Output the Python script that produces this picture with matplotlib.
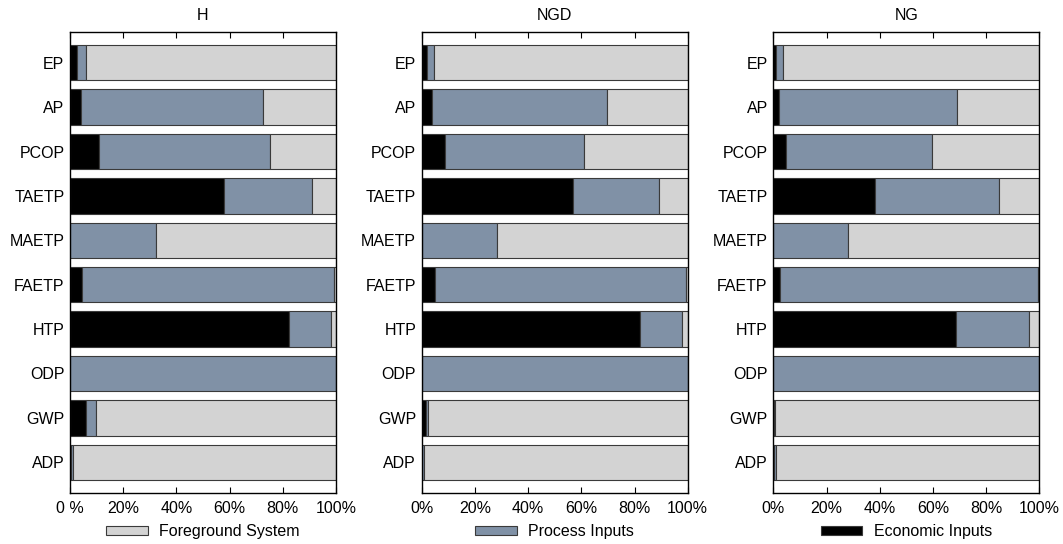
import matplotlib.pyplot as plt
from matplotlib.patches import Patch
import numpy as np

plt.rcParams['font.family'] = ['Liberation Sans', 'DejaVu Sans']

categories = ["EP", "AP", "PCOP", "TAETP", "MAETP", "FAETP", "HTP", "ODP", "GWP", "ADP"]
panels = ["H", "NGD", "NG"]

# shares in % per panel (economic, process); foreground is the rest
economic = {
    "H":   [2.7, 4.0, 10.8, 57.8, 0.0, 4.6, 82.2, 0.0, 5.9, 0.3],
    "NGD": [2.0, 4.0, 8.8, 56.8, 0.0, 5.0, 81.9, 0.0, 1.6, 0.1],
    "NG":  [0.9, 2.1, 4.9, 38.4, 0.0, 2.4, 68.6, 0.0, 0.2, 0.3],
}
process = {
    "H":   [3.4, 68.4, 64.4, 33.1, 32.3, 94.8, 15.9, 100.0, 3.8, 0.9],
    "NGD": [2.8, 65.5, 52.2, 32.5, 28.4, 94.4, 16.0, 100.0, 0.6, 0.9],
    "NG":  [2.6, 66.9, 54.6, 46.4, 28.2, 97.0, 27.7, 100.0, 0.3, 0.9],
}
zero_labels = {"H": "0 %", "NGD": "0%", "NG": "0%"}
legend_names = ["Foreground System", "Process Inputs", "Economic Inputs"]

c_fore = "#d3d3d3"
c_proc = "#8091a6"
c_econ = "#000000"
edge = "#3a3a3a"

fig = plt.figure(figsize=(10.63, 5.44), dpi=100)
lefts = [70, 421.7, 773.3]
width = 266
bottom = 1 - 492.7 / 544
height = (492.7 - 32.3) / 544

legend_colors = [c_fore, c_proc, c_econ]

for i, p in enumerate(panels):
    ax = fig.add_axes([lefts[i] / 1063, bottom, width / 1063, height])
    y = np.arange(len(categories))[::-1]
    e = np.array(economic[p])
    pr = np.array(process[p])
    fg = 100 - e - pr
    ax.barh(y, e, height=0.8, color=c_econ, edgecolor=edge, linewidth=0.8)
    ax.barh(y, pr, left=e, height=0.8, color=c_proc, edgecolor=edge, linewidth=0.8)
    ax.barh(y, fg, left=e + pr, height=0.8, color=c_fore, edgecolor=edge, linewidth=0.8)
    ax.set_xlim(0, 100)
    ax.set_ylim(-0.685, 9.685)
    ax.set_yticks(y)
    ax.set_yticklabels(categories, fontsize=11.5)
    ax.set_xticks([0, 20, 40, 60, 80, 100])
    ax.set_xticklabels([zero_labels[p], "20%", "40%", "60%", "80%", "100%"], fontsize=11.5)
    ax.tick_params(axis='x', direction='in', top=True, length=4, width=0.8, pad=6)
    ax.tick_params(axis='y', length=0, pad=4)
    for s in ax.spines.values():
        s.set_linewidth(1.0)
        s.set_color("black")
    ax.set_title(p, fontsize=11.5, pad=9)
    ax.legend(handles=[Patch(facecolor=legend_colors[i], edgecolor=edge, linewidth=0.8,
                             label=legend_names[i])],
              loc='center', bbox_to_anchor=(0.5, -0.085), frameon=False,
              fontsize=11.5, handlelength=2.6, handleheight=0.5, handletextpad=0.7)

fig.savefig("out.png", dpi=100)
